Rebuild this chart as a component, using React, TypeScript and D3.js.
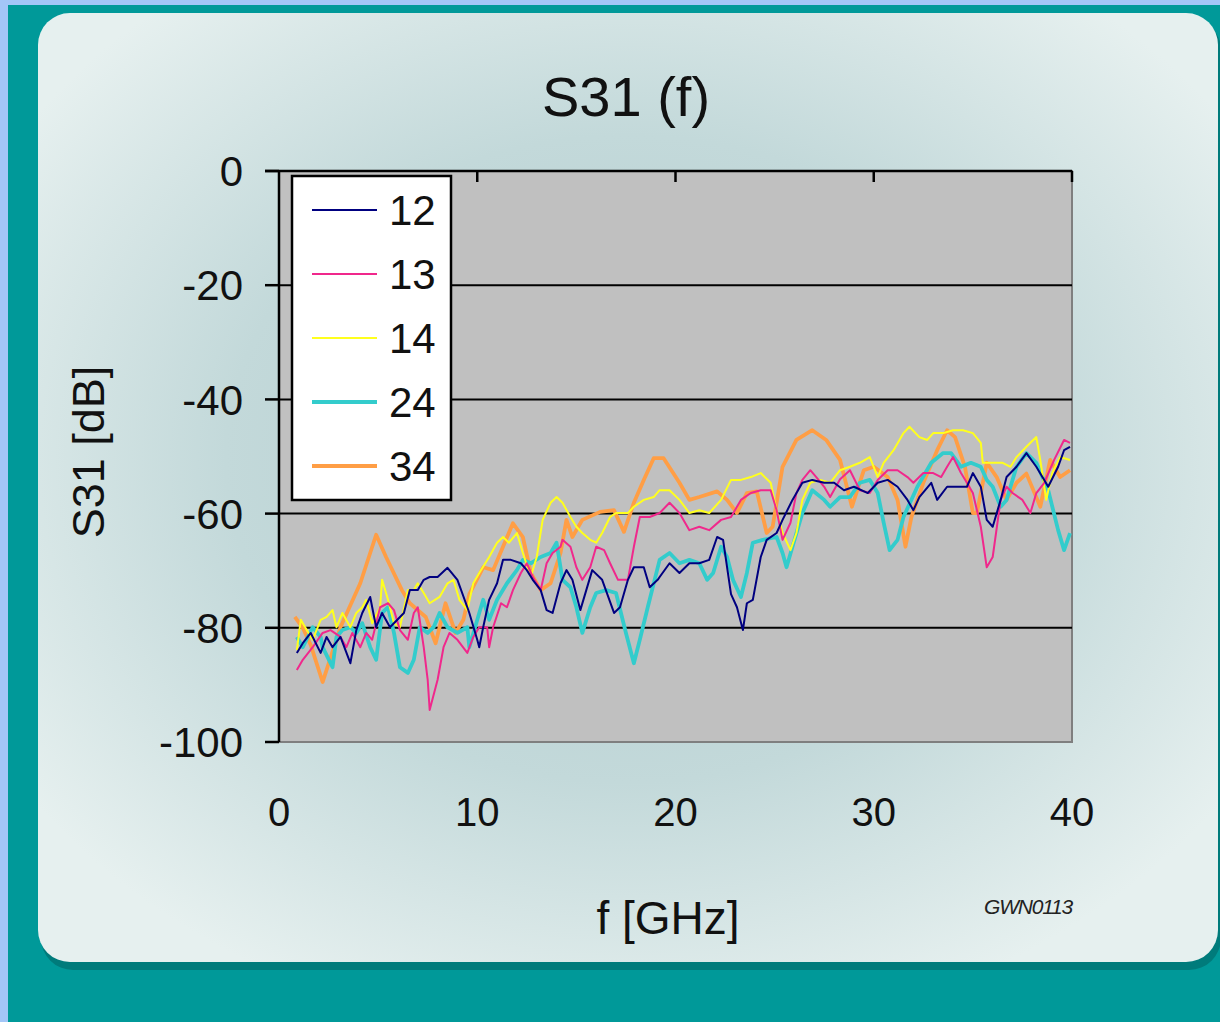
import React from "react";
import * as d3 from "d3";

const title = "S31 (f)";
const xLabel = "f [GHz]";
const yLabel = "S31 [dB]";
const note = "GWN0113";
const xTicks = [0, 10, 20, 30, 40];
const yTicks = [0, -20, -40, -60, -80, -100];
const seriesNames = ["12", "13", "14", "24", "34"];
const seriesColors = ["#000080", "#F0288C", "#FFFF1E", "#33CCCC", "#FF9E45"];
const seriesWidths = [2, 2, 2, 3.8, 3.8];

type P = [number, number];

const s12: P[] = [[0.9,-84.4],[1.2,-82.7],[1.6,-80.9],[2.1,-84.4],[2.4,-81.6],[2.7,-83.4],[3.1,-81.6],[3.6,-86.2],[3.9,-80.4],[4.2,-77.4],[4.6,-74.6],[4.9,-79.9],[5.2,-77.4],[5.6,-79.9],[6.3,-77.4],[6.6,-73.4],[7.0,-73.4],[7.3,-71.6],[7.6,-71.1],[8.0,-71.1],[8.5,-69.5],[9.0,-71.6],[9.5,-76.4],[9.6,-77.4],[10.0,-82.1],[10.1,-83.4],[10.3,-79.9],[10.6,-75.1],[11.0,-72.2],[11.3,-68.1],[11.7,-68.1],[12.2,-68.7],[12.5,-69.9],[12.8,-71.6],[13.2,-73.4],[13.5,-76.9],[13.8,-77.4],[14.2,-72.2],[14.5,-69.9],[14.8,-71.6],[15.2,-76.9],[15.5,-73.4],[15.8,-69.9],[16.3,-71.6],[16.9,-77.4],[17.2,-76.4],[17.6,-71.6],[17.9,-69.4],[18.4,-69.4],[18.7,-72.9],[19.1,-71.6],[19.2,-71.1],[19.7,-68.7],[20.2,-70.4],[20.7,-68.7],[21.2,-68.7],[21.7,-68.1],[22.1,-64.1],[22.4,-64.6],[22.8,-74.1],[23.1,-76.4],[23.4,-80.4],[23.6,-75.7],[23.9,-75.1],[24.3,-67.6],[24.6,-64.6],[25.1,-63.4],[25.4,-61.1],[25.9,-57.6],[26.4,-54.6],[26.9,-54.1],[27.5,-54.6],[28.0,-54.6],[28.5,-55.9],[29.0,-55.3],[29.7,-56.4],[30.2,-54.6],[30.7,-54.1],[31.2,-55.3],[31.7,-57.6],[32.0,-59.4],[32.3,-57.1],[32.9,-54.6],[33.2,-57.6],[33.7,-55.3],[34.2,-55.3],[34.7,-55.3],[35.0,-52.9],[35.4,-55.3],[35.7,-61.1],[36.0,-62.3],[36.4,-57.6],[36.7,-53.6],[37.2,-51.8],[37.7,-49.4],[38.2,-51.8],[38.8,-55.3],[39.3,-51.8],[39.6,-48.9],[39.9,-48.3]];

const s13: P[] = [[0.9,-87.4],[1.2,-85.6],[1.7,-83.4],[2.2,-80.9],[2.6,-80.4],[3.1,-81.6],[3.4,-83.4],[3.7,-80.9],[4.1,-83.4],[4.4,-80.9],[4.7,-82.1],[5.1,-76.4],[5.5,-75.7],[5.8,-76.9],[6.1,-80.4],[6.5,-82.1],[6.8,-77.4],[7.0,-76.4],[7.3,-83.4],[7.5,-89.1],[7.6,-94.4],[8.0,-89.1],[8.3,-83.4],[8.6,-80.9],[9.0,-82.1],[9.5,-84.4],[9.8,-81.6],[10.1,-79.9],[10.5,-79.9],[10.6,-83.4],[10.8,-79.9],[11.2,-75.7],[11.5,-76.4],[11.8,-73.4],[12.2,-70.4],[12.5,-68.7],[12.8,-71.1],[13.2,-73.4],[13.5,-68.7],[13.8,-66.9],[14.2,-65.8],[14.3,-64.6],[14.7,-65.8],[15.0,-69.4],[15.3,-71.6],[15.7,-69.4],[16.0,-65.8],[16.4,-66.4],[16.7,-68.7],[17.1,-71.6],[17.6,-71.6],[17.9,-65.8],[18.2,-60.6],[18.7,-60.6],[19.2,-59.9],[19.7,-58.1],[20.2,-59.9],[20.7,-62.9],[21.2,-62.3],[21.7,-62.9],[22.3,-61.1],[22.8,-60.6],[23.3,-57.6],[23.8,-56.4],[24.3,-55.9],[24.8,-55.9],[25.1,-59.4],[25.4,-64.6],[25.8,-61.6],[26.1,-56.4],[26.4,-54.1],[26.8,-52.4],[27.1,-53.6],[27.5,-55.3],[27.8,-57.1],[28.3,-54.0],[28.8,-52.4],[29.3,-55.9],[29.8,-56.4],[30.2,-54.1],[30.7,-52.4],[31.2,-52.4],[31.7,-53.6],[32.0,-54.6],[32.5,-52.9],[33.0,-52.9],[33.4,-53.6],[33.7,-51.8],[34.0,-50.1],[34.4,-52.9],[34.7,-54.6],[35.0,-56.4],[35.4,-62.3],[35.7,-69.4],[36.0,-67.6],[36.4,-57.6],[36.7,-55.3],[37.0,-56.4],[37.5,-57.6],[37.9,-59.9],[38.2,-56.4],[38.6,-54.6],[39.1,-50.6],[39.6,-47.1],[39.9,-47.6]];

const s14: P[] = [[0.9,-83.9],[1.1,-78.6],[1.4,-80.4],[1.7,-82.1],[2.1,-78.6],[2.4,-78.1],[2.7,-76.9],[2.9,-79.9],[3.2,-77.4],[3.6,-79.9],[3.9,-77.4],[4.2,-76.4],[4.4,-75.1],[4.7,-79.2],[5.1,-76.4],[5.2,-71.6],[5.5,-75.1],[5.8,-79.2],[6.1,-79.9],[6.5,-73.4],[6.8,-73.4],[7.0,-72.2],[7.3,-73.9],[7.6,-75.7],[8.1,-74.6],[8.5,-72.2],[8.8,-71.6],[9.1,-75.1],[9.5,-76.9],[9.8,-72.2],[10.1,-70.4],[10.6,-67.6],[11.0,-65.1],[11.3,-64.1],[11.6,-65.1],[12.0,-63.4],[12.3,-66.9],[12.7,-71.1],[13.0,-67.6],[13.3,-61.1],[13.7,-58.1],[14.0,-57.1],[14.3,-58.1],[14.7,-60.6],[15.0,-62.3],[15.3,-63.4],[15.7,-64.6],[16.0,-65.1],[16.3,-63.4],[16.7,-60.6],[17.0,-59.9],[17.6,-59.9],[17.9,-58.8],[18.4,-57.6],[18.9,-57.1],[19.2,-55.9],[19.7,-55.9],[20.2,-57.6],[20.7,-59.9],[21.2,-59.4],[21.7,-59.9],[22.3,-57.6],[22.8,-54.1],[23.3,-54.1],[23.8,-53.6],[24.3,-52.9],[24.8,-54.6],[25.1,-59.4],[25.4,-63.4],[25.8,-66.4],[26.1,-63.4],[26.4,-57.6],[26.8,-54.6],[27.3,-54.1],[27.8,-54.6],[28.3,-52.4],[28.8,-51.8],[29.3,-51.1],[29.8,-50.1],[30.2,-53.6],[30.5,-51.1],[31.0,-48.9],[31.5,-45.9],[31.8,-44.8],[32.3,-46.6],[32.7,-47.1],[33.0,-45.9],[33.5,-45.9],[34.0,-45.4],[34.5,-45.4],[35.0,-45.9],[35.4,-47.6],[35.5,-51.1],[36.0,-51.1],[36.5,-51.1],[36.9,-51.8],[37.2,-50.1],[37.7,-48.3],[38.2,-46.6],[38.4,-50.6],[38.7,-57.6],[39.0,-52.9],[39.4,-50.1],[39.9,-50.6]];

const s24: P[] = [[0.9,-81.6],[1.2,-83.4],[1.7,-79.9],[2.1,-81.6],[2.2,-83.4],[2.7,-86.9],[2.9,-81.6],[3.2,-80.4],[3.6,-79.9],[3.9,-80.9],[4.2,-79.2],[4.6,-83.4],[4.9,-85.6],[5.2,-77.4],[5.5,-76.4],[5.8,-80.9],[6.1,-86.9],[6.5,-87.9],[6.8,-85.6],[7.1,-79.9],[7.5,-80.9],[7.8,-79.9],[8.1,-77.4],[8.5,-79.9],[9.0,-80.9],[9.5,-79.9],[9.6,-83.4],[10.1,-77.4],[10.3,-75.1],[10.6,-78.6],[11.0,-75.1],[11.5,-72.2],[12.0,-69.9],[12.3,-68.1],[12.7,-68.7],[13.2,-67.6],[13.7,-66.9],[14.0,-65.1],[14.3,-71.6],[14.7,-72.9],[15.0,-76.4],[15.3,-80.9],[15.7,-76.4],[16.0,-73.9],[16.5,-73.4],[17.0,-73.9],[17.5,-80.9],[17.9,-86.2],[18.2,-82.1],[18.6,-76.4],[19.2,-68.1],[19.7,-66.9],[20.2,-68.7],[20.7,-68.1],[21.2,-68.7],[21.6,-71.6],[21.9,-70.4],[22.3,-65.8],[22.6,-67.6],[22.9,-71.6],[23.3,-74.6],[23.6,-70.4],[23.9,-65.1],[24.4,-64.6],[25.1,-64.1],[25.4,-66.9],[25.6,-69.4],[25.9,-65.8],[26.4,-59.9],[26.9,-55.9],[27.5,-57.6],[27.8,-58.8],[28.3,-57.1],[28.8,-57.1],[29.3,-54.6],[29.8,-54.1],[30.2,-56.4],[30.5,-61.6],[30.8,-66.4],[31.2,-64.6],[31.5,-60.6],[32.2,-55.3],[32.9,-51.1],[33.5,-49.4],[33.9,-49.4],[34.4,-51.8],[34.9,-51.1],[35.4,-51.8],[35.7,-54.1],[36.0,-55.3],[36.4,-58.8],[36.7,-57.6],[37.2,-51.8],[37.7,-49.4],[38.2,-51.1],[38.8,-55.9],[39.3,-62.9],[39.6,-66.4],[39.9,-63.4]];

const s34: P[] = [[0.8,-78.1],[1.2,-80.0],[1.6,-83.0],[2.2,-89.5],[3.1,-79.9],[4.1,-72.2],[4.9,-63.7],[5.4,-67.6],[6.2,-73.4],[6.6,-75.7],[7.4,-78.1],[7.9,-82.7],[8.4,-75.7],[8.9,-80.9],[9.3,-78.6],[9.6,-74.1],[10.3,-69.4],[10.8,-69.9],[11.3,-65.8],[11.8,-61.7],[12.3,-64.1],[12.7,-70.4],[13.2,-73.4],[13.7,-72.2],[14.2,-66.9],[14.5,-61.1],[14.8,-64.1],[15.3,-61.1],[16.2,-59.7],[16.9,-59.4],[17.4,-63.2],[17.9,-58.1],[18.4,-54.1],[18.9,-50.3],[19.4,-50.3],[20.2,-54.6],[20.7,-57.6],[21.2,-57.1],[22.1,-56.1],[22.6,-57.6],[23.1,-59.9],[23.6,-56.4],[24.1,-56.1],[24.6,-63.4],[24.9,-62.3],[25.4,-51.8],[26.1,-47.1],[26.9,-45.4],[27.6,-47.1],[28.3,-50.6],[28.9,-58.8],[29.5,-52.4],[30.0,-51.8],[30.7,-53.6],[31.2,-57.6],[31.6,-65.8],[31.9,-60.6],[32.5,-54.6],[33.2,-48.9],[33.7,-45.4],[34.1,-46.6],[34.6,-51.8],[35.0,-59.9],[35.2,-59.9],[35.7,-51.1],[36.2,-53.6],[36.7,-57.6],[37.2,-54.6],[37.7,-53.0],[38.4,-58.8],[38.9,-50.6],[39.4,-53.6],[39.9,-52.4]];

const seriesData = [s12, s13, s14, s24, s34];

export default function App() {
  const W = 1220, H = 1022;
  const x = d3.scaleLinear().domain([0, 40]).range([279, 1072]);
  const y = d3.scaleLinear().domain([-100, 0]).range([742, 171]);
  const line = d3.line<P>().x((d) => x(d[0])).y((d) => y(d[1])).curve(d3.curveLinear);
  const font = "'Liberation Sans', Arial, sans-serif";
  const x0 = x(0), x1 = x(40), yTop = y(0), yBot = y(-100);
  const legendX = 292, legendY = 176;
  const drawOrder = [4, 3, 2, 1, 0];
  return (
    <svg width={W} height={H} style={{ position: "absolute", left: 0, top: 0 }} fontFamily={font}>
      <defs>
        <radialGradient id="cardGrad" cx="0.5" cy="0.47" r="0.62">
          <stop offset="0" stopColor="#B2CCCE" />
          <stop offset="0.55" stopColor="#C3D9DA" />
          <stop offset="1" stopColor="#E6F0EF" />
        </radialGradient>
        <clipPath id="plotClip">
          <rect x={x0} y={yTop} width={x1 - x0} height={yBot - yTop} />
        </clipPath>
      </defs>
      <rect x={0} y={0} width={W} height={H} fill="#A3C6F7" />
      <rect x={8} y={5} width={W - 8} height={H - 5} fill="#009999" />
      <rect x={41} y={18} width={1180} height={952} rx={32} fill="#007B7B" />
      <rect x={38} y={13} width={1180} height={949} rx={32} fill="url(#cardGrad)" />

      <text x={626} y={116} fontSize={56} textAnchor="middle" fill="#111">{title}</text>

      {/* plot area */}
      <rect x={x0} y={yTop} width={x1 - x0} height={yBot - yTop} fill="#C0C0C0" stroke="#7F7F7F" strokeWidth={2} />
      {yTicks.filter((t) => t !== 0 && t !== -100).map((t) => (
        <line key={t} x1={x0} x2={x1} y1={y(t)} y2={y(t)} stroke="#000" strokeWidth={2} />
      ))}

      <g clipPath="url(#plotClip)">
        {drawOrder.map((i) => (
          <path key={i} d={line(seriesData[i]) || ""} fill="none" stroke={seriesColors[i]} strokeWidth={seriesWidths[i]} strokeLinejoin="round" />
        ))}
      </g>

      {/* axes */}
      <line x1={x0 - 14} x2={x1} y1={yTop} y2={yTop} stroke="#000" strokeWidth={2.5} />
      {xTicks.filter((t) => t !== 0).map((t) => (
        <line key={t} x1={x(t)} x2={x(t)} y1={yTop} y2={yTop + 11} stroke="#000" strokeWidth={2.5} />
      ))}
      <line x1={x0} x2={x0} y1={yTop} y2={yBot} stroke="#000" strokeWidth={2.5} />
      {yTicks.map((t) => (
        <line key={t} x1={x0 - 14} x2={x0} y1={y(t)} y2={y(t)} stroke="#000" strokeWidth={2.5} />
      ))}

      {yTicks.map((t) => (
        <text key={t} x={243} y={y(t)} dy="0.36em" fontSize={42} textAnchor="end" fill="#111">{t}</text>
      ))}
      {xTicks.map((t) => (
        <text key={t} x={x(t)} y={812} dy="0.36em" fontSize={40} textAnchor="middle" fill="#111">{t}</text>
      ))}

      <text transform={`translate(104,452) rotate(-90)`} fontSize={45} textAnchor="middle" fill="#111">{yLabel}</text>
      <text x={668} y={934} fontSize={46} textAnchor="middle" fill="#111">{xLabel}</text>
      <text x={984} y={914} fontSize={21} fontStyle="italic" fill="#222" letterSpacing={-1.2}>{note}</text>

      {/* legend */}
      <rect x={legendX} y={legendY} width={159} height={324} fill="#FFFFFF" stroke="#000" strokeWidth={2.5} />
      {seriesNames.map((n, i) => {
        const ly = 210 + i * 64;
        return (
          <g key={n}>
            <line x1={312} x2={377} y1={ly} y2={ly} stroke={seriesColors[i]} strokeWidth={seriesWidths[i]} />
            <text x={389} y={ly} dy="0.36em" fontSize={42} fill="#111">{n}</text>
          </g>
        );
      })}
    </svg>
  );
}
